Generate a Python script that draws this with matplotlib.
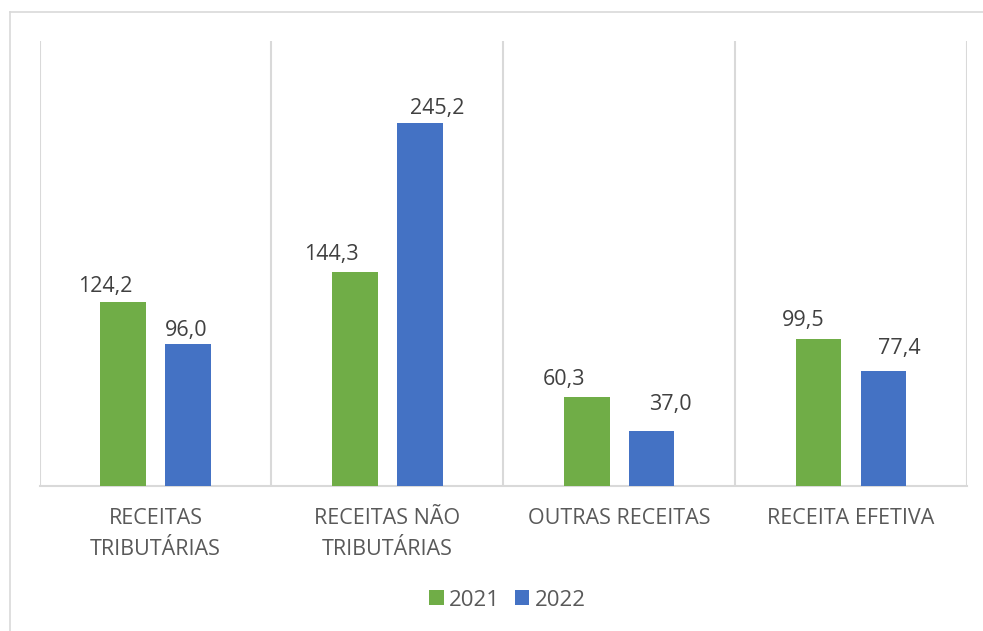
import matplotlib
matplotlib.use("Agg")
import matplotlib.pyplot as plt
from matplotlib.lines import Line2D
import numpy as np

categories = ["RECEITAS\nTRIBUTÁRIAS", "RECEITAS NÃO\nTRIBUTÁRIAS", "OUTRAS RECEITAS", "RECEITA EFETIVA"]
series_names = ["2021", "2022"]
values_2021 = [124.2, 144.3, 60.3, 99.5]
values_2022 = [96.0, 245.2, 37.0, 77.4]
labels_2021 = ["124,2", "144,3", "60,3", "99,5"]
labels_2022 = ["96,0", "245,2", "37,0", "77,4"]

# manual label placement (pixels): horizontal shift and gap above bar
dx_2021 = [-17.5, -23.5, -22.5, -15]
dx_2022 = [-1.5, 17, 18.5, 16]
gap_2021 = [9.7, 12, 11.7, 13]
gap_2022 = [8, 9, 21, 17]

GREEN = "#70AD47"
BLUE = "#4472C4"
GRID = "#D9D9D9"
TXT = "#595959"
VAL = "#404040"
FONT = ["Open Sans", "DejaVu Sans"]

plt.rcParams['font.family'] = FONT

W, H = 983, 631
fig = plt.figure(figsize=(W / 100, H / 100), dpi=100)
ax = fig.add_axes([39.5 / W, 1 - 486 / H, (967 - 39.5) / W, (486 - 41.4) / H])

x = np.arange(len(categories))
bw = 0.197
off = 0.14
b1 = ax.bar(x - off, values_2021, bw, color=GREEN, label=series_names[0], zorder=3)
b2 = ax.bar(x + off, values_2022, bw, color=BLUE, label=series_names[1], zorder=3)

ax.set_xlim(-0.5, len(categories) - 0.5)
ax.set_ylim(0, 300)

# vertical gridlines at category boundaries
for b in np.arange(-0.5, len(categories), 1.0):
    ax.axvline(b, color=GRID, lw=1.5, zorder=1)
for s in ax.spines.values():
    s.set_visible(False)
ax.axhline(0, color=GRID, lw=1.5, zorder=2, clip_on=False)

ax.set_yticks([])
ax.set_xticks(x)
ax.set_xticklabels(categories, fontsize=15.5, color=TXT, linespacing=1.6)
ax.tick_params(axis='x', length=0, pad=16)

px = 0.72
for bars, labs, dxs, gaps in ((b1, labels_2021, dx_2021, gap_2021), (b2, labels_2022, dx_2022, gap_2022)):
    for rect, lab, dx, g in zip(bars, labs, dxs, gaps):
        ax.annotate(lab, (rect.get_x() + rect.get_width() / 2, rect.get_height()),
                    xytext=(dx * px, g * px), textcoords="offset points",
                    ha="center", va="baseline", fontsize=15.5, color=VAL)

fig.legend(handles=[b1, b2], labels=series_names, loc="center", bbox_to_anchor=(507.5 / W, 1 - 600 / H),
           ncol=2, frameon=False, fontsize=16, labelcolor=TXT, handlelength=0.65, handleheight=0.65,
           handletextpad=0.25, columnspacing=0.65)

# outer chart frame (partially visible)
fig.add_artist(Line2D([10 / W, 10 / W], [0, 1 - 12 / H], color=GRID, lw=1.2, transform=fig.transFigure))
fig.add_artist(Line2D([10 / W, 1], [1 - 12 / H, 1 - 12 / H], color=GRID, lw=1.2, transform=fig.transFigure))

fig.savefig("out.png", dpi=100, facecolor="white")
